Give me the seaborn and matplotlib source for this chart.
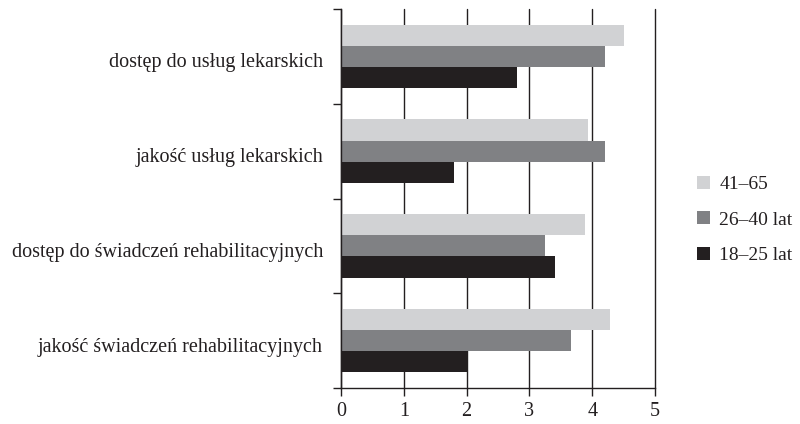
import matplotlib
matplotlib.use("Agg")
import matplotlib.pyplot as plt
import matplotlib.transforms as mtransforms
import seaborn as sns
import pandas as pd
from matplotlib.ticker import FixedLocator

categories = ["dostęp do usług lekarskich", "jakość usług lekarskich",
              "dostęp do świadczeń rehabilitacyjnych", "jakość świadczeń rehabilitacyjnych"]
groups = ["41–65", "26–40 lat", "18–25 lat"]
vals_41_65 = [4.51, 3.93, 3.89, 4.28]
vals_26_40 = [4.20, 4.20, 3.25, 3.66]
vals_18_25 = [2.80, 1.80, 3.41, 2.00]
colors = ["#d1d2d4", "#808184", "#231f20"]

rows = []
for g, vals in zip(groups, [vals_41_65, vals_26_40, vals_18_25]):
    for c, v in zip(categories, vals):
        rows.append({"cat": c, "group": g, "value": v})
df = pd.DataFrame(rows)

sns.set_style("white")
plt.rcParams['font.family'] = ['Liberation Serif', 'DejaVu Serif']
FS = 14.5

fig = plt.figure(figsize=(8, 4.24), dpi=100)
ax = fig.add_axes([341/800, 1-388/424, 314/800, 379/424])

sns.barplot(data=df, x="value", y="cat", hue="group", order=categories,
            hue_order=groups, palette=colors, width=0.67, gap=0,
            orient="h", ax=ax, saturation=1, linewidth=0, legend=True)

ax.set_xlim(0, 5)
ax.set_ylim(3.5, -0.5)
ax.set_xlabel("")
ax.set_ylabel("")
ax.set_xticks([0, 1, 2, 3, 4, 5])
ax.set_xticklabels(["0", "1", "2", "3", "4", "5"], fontsize=FS)
ax.yaxis.set_minor_locator(FixedLocator([-0.5, 0.5, 1.5, 2.5, 3.5]))
ax.tick_params(axis="y", which="major", length=0, labelsize=FS, pad=13, colors="#231f20")
ax.tick_params(axis="y", which="minor", length=6, width=1, color="#231f20", direction="out", left=True)
ax.tick_params(axis="x", which="major", length=6, width=1, color="#231f20", direction="out",
               bottom=True, labelcolor="#231f20", pad=4)
ax.grid(axis="x", color="#231f20", linewidth=1)
for gl in ax.get_xgridlines():
    gl.set_clip_on(False)
ax.set_axisbelow(True)
for s in ["top", "right"]:
    ax.spines[s].set_visible(False)
for s in ["left", "bottom"]:
    ax.spines[s].set_color("#231f20")
    ax.spines[s].set_linewidth(1)

shift = mtransforms.ScaledTranslation(0, -4/100, fig.dpi_scale_trans)
for lbl in ax.get_yticklabels():
    lbl.set_transform(lbl.get_transform() + shift)

handles, labels = ax.get_legend_handles_labels()
ax.get_legend().remove()
fig.legend(handles, labels, loc="center left", bbox_to_anchor=(697/800, 1-220/424),
           frameon=False, fontsize=14, handlelength=0.65, handleheight=0.65,
           labelspacing=0.92, handletextpad=0.5, borderpad=0, borderaxespad=0,
           labelcolor="#231f20")

fig.savefig("out.png", dpi=100)
